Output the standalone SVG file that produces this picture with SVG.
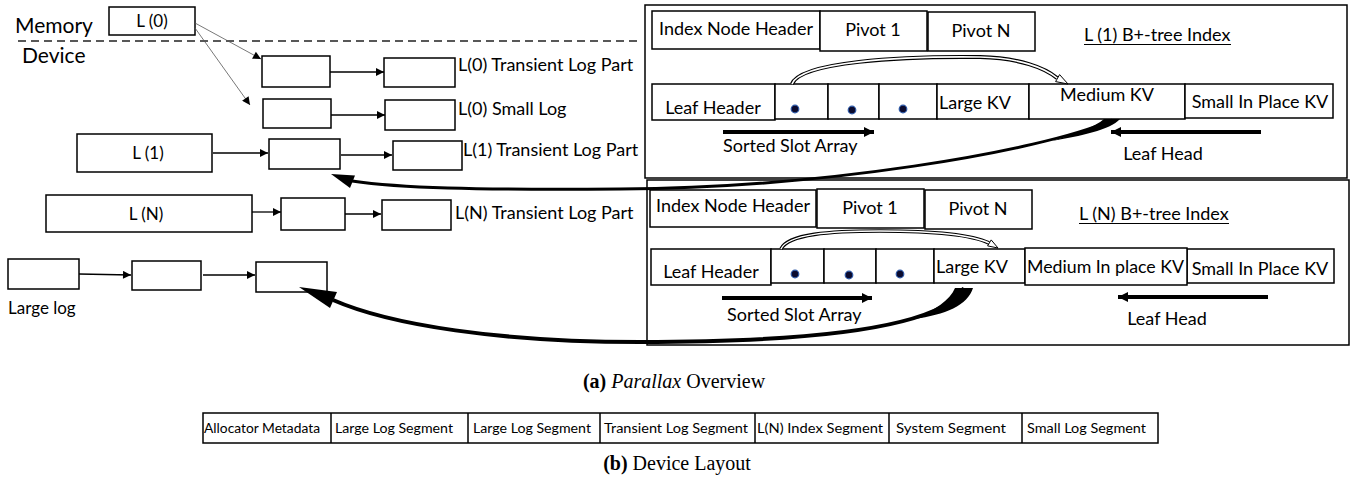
<svg xmlns="http://www.w3.org/2000/svg" width="1351" height="482" viewBox="0 0 1351 482">
<defs>
<style>
.b{fill:#fff;stroke:#000;stroke-width:1.5}
.fr{fill:none;stroke:#000;stroke-width:1.5}
.t{font-family:Lato,"Open Sans","Liberation Sans",sans-serif;fill:#000}
.m{text-anchor:middle}
.f21{font-size:21px}.f18{font-size:18px}.f17{font-size:17px}.f13{font-size:13.5px}
.sm{stroke:#000;stroke-width:1.3;fill:none}
.th{stroke:#000;stroke-width:4;fill:none}
.dot{fill:#0b0b2e;stroke:#2e5aa8;stroke-width:1.2}
.cap{font-family:"Liberation Serif",serif;font-size:20px;fill:#000}
.sep{stroke:#000;stroke-width:1.5}
</style>
<marker id="ah" viewBox="0 0 10 10" refX="10" refY="5" markerWidth="9" markerHeight="8" markerUnits="userSpaceOnUse" orient="auto"><path d="M0,0 L10,5 L0,10 z" fill="#000"/></marker>
<marker id="ahT" viewBox="0 0 10 10" refX="10" refY="5" markerWidth="12" markerHeight="10" markerUnits="userSpaceOnUse" orient="auto"><path d="M0,0 L10,5 L0,10 z" fill="#000"/></marker>
</defs>
<rect width="1351" height="482" fill="#fff"/>

<g id="memory-device">
<text class="t f21" x="15" y="33">Memory</text>
<line x1="18" y1="41" x2="638" y2="41" stroke="#222" stroke-width="1.5" stroke-dasharray="8 5"/>
<text class="t f21" x="22" y="63">Device</text>
</g>

<g id="l0"><rect class="b" x="109" y="7" width="86" height="28"/><text class="t f17 m" x="152" y="27">L (0)</text></g>
<g id="l0-transient">
<rect class="b" x="262" y="56" width="68" height="31"/>
<rect class="b" x="384" y="58" width="71" height="29"/>
<text class="t f18" x="458" y="71">L(0) Transient Log Part</text>
</g>
<g id="l0-small">
<rect class="b" x="263" y="99" width="68" height="29"/>
<rect class="b" x="385" y="100" width="70" height="30"/>
<text class="t f18" x="458" y="115">L(0) Small Log</text>
</g>
<g id="l1"><rect class="b" x="77" y="134" width="135" height="38"/><text class="t f17 m" x="148" y="159">L (1)</text></g>
<g id="l1-transient">
<rect class="b" x="269" y="139" width="71" height="30"/>
<rect class="b" x="393" y="141" width="69" height="29"/>
<text class="t f18" x="463" y="156">L(1) Transient Log Part</text>
</g>
<g id="ln"><rect class="b" x="46" y="195" width="206" height="37"/><text class="t f17 m" x="146" y="220">L (N)</text></g>
<g id="ln-transient">
<rect class="b" x="281" y="198" width="64" height="32"/>
<rect class="b" x="382" y="200" width="69" height="30"/>
<text class="t f18" x="455" y="219">L(N) Transient Log Part</text>
</g>
<g id="large-log">
<rect class="b" x="8" y="259" width="71" height="30"/>
<rect class="b" x="132" y="261" width="69" height="29"/>
<rect class="b" x="256" y="262" width="71" height="30"/>
<text class="t f17" x="8" y="314">Large log</text>
</g>

<g id="l1-index">
<rect class="fr" x="645" y="5" width="702" height="173"/>
<rect class="b" x="652" y="11" width="168" height="38"/><text class="t f18 m" x="736" y="35">Index Node Header</text>
<rect class="b" x="820" y="11" width="107" height="40"/><text class="t f18 m" x="873" y="36">Pivot 1</text>
<rect class="b" x="928" y="12" width="107" height="39"/><text class="t f18 m" x="981" y="37">Pivot N</text>
<text class="t f18" x="1084" y="41">L (1) B+-tree Index</text>
<line x1="1084" y1="44.5" x2="1231" y2="44.5" stroke="#000" stroke-width="1.2"/>
<rect class="b" x="652" y="84" width="123" height="36"/><text class="t f18 m" x="713" y="114">Leaf Header</text>
<rect class="b" x="775" y="84" width="53" height="35"/>
<rect class="b" x="828" y="84" width="51" height="35"/>
<rect class="b" x="879" y="84" width="58" height="35"/>
<circle class="dot" cx="795" cy="109" r="3.8"/><circle class="dot" cx="852" cy="110" r="3.8"/><circle class="dot" cx="903" cy="109" r="3.8"/>
<rect class="b" x="937" y="84" width="92" height="35"/><text class="t f18" x="939" y="109">Large KV</text>
<rect class="b" x="1029" y="84" width="156" height="35"/><text class="t f18 m" x="1107" y="101">Medium KV</text>
<rect class="b" x="1185" y="84" width="148" height="34"/><text class="t f18 m" x="1260" y="108">Small In Place KV</text>
<text class="t f18" x="723" y="152">Sorted Slot Array</text>
<text class="t f18 m" x="1163" y="160">Leaf Head</text>
</g>

<g id="ln-index">
<rect class="fr" x="647" y="180" width="702" height="165"/>
<rect class="b" x="650" y="190" width="166" height="37"/><text class="t f18 m" x="733" y="212">Index Node Header</text>
<rect class="b" x="817" y="189" width="107" height="39"/><text class="t f18 m" x="870" y="214">Pivot 1</text>
<rect class="b" x="925" y="190" width="107" height="39"/><text class="t f18 m" x="978" y="215">Pivot N</text>
<text class="t f18" x="1079" y="220">L (N) B+-tree Index</text>
<line x1="1079" y1="223.5" x2="1229" y2="223.5" stroke="#000" stroke-width="1.2"/>
<rect class="b" x="651" y="249" width="120" height="36"/><text class="t f18 m" x="711" y="278">Leaf Header</text>
<rect class="b" x="771" y="249" width="53" height="34"/>
<rect class="b" x="824" y="249" width="52" height="34"/>
<rect class="b" x="876" y="249" width="58" height="34"/>
<circle class="dot" cx="795" cy="274" r="3.8"/><circle class="dot" cx="849" cy="275" r="3.8"/><circle class="dot" cx="900" cy="274" r="3.8"/>
<rect class="b" x="934" y="249" width="91" height="34"/><text class="t f18" x="936" y="273">Large KV</text>
<rect class="b" x="1187" y="249" width="147" height="34"/><text class="t f18 m" x="1260" y="275">Small In Place KV</text>
<rect class="b" x="1025" y="248" width="162" height="37"/><text class="t f18" x="1027" y="273" textLength="157" lengthAdjust="spacingAndGlyphs">Medium In place KV</text>
<text class="t f18" x="727" y="321">Sorted Slot Array</text>
<text class="t f18 m" x="1167" y="325">Leaf Head</text>
</g>

<g id="connectors">
<line x1="195" y1="23" x2="261" y2="59" stroke="#555" stroke-width="0.8" marker-end="url(#ah)"/>
<line x1="195" y1="28" x2="250" y2="105" stroke="#555" stroke-width="0.8" marker-end="url(#ah)"/>
<line class="sm" x1="330" y1="72" x2="384" y2="72" marker-end="url(#ah)"/>
<line class="sm" x1="331" y1="115" x2="385" y2="115" marker-end="url(#ah)"/>
<line class="sm" x1="213" y1="153" x2="268" y2="153" marker-end="url(#ah)"/>
<line class="sm" x1="341" y1="155" x2="392" y2="155" marker-end="url(#ah)"/>
<line class="sm" x1="252" y1="212" x2="281" y2="212" marker-end="url(#ah)"/>
<line class="sm" x1="345" y1="214" x2="381" y2="214" marker-end="url(#ah)"/>
<line class="sm" x1="79" y1="274" x2="131" y2="275" marker-end="url(#ah)"/>
<line class="sm" x1="203" y1="275" x2="255" y2="275" marker-end="url(#ah)"/>

<line class="th" x1="723" y1="132" x2="874" y2="132" marker-end="url(#ahT)"/>
<line class="th" x1="1261" y1="132" x2="1111" y2="132" marker-end="url(#ahT)"/>
<line class="th" x1="722" y1="298" x2="872" y2="298" marker-end="url(#ahT)"/>
<line class="th" x1="1268" y1="297" x2="1118" y2="297" marker-end="url(#ahT)"/>

<path d="M792,84 C800,62 900,56 980,57 C1020,58 1045,68 1057,78" fill="none" stroke="#000" stroke-width="4"/>
<path d="M792,84 C800,62 900,56 980,57 C1020,58 1045,68 1057,78" fill="none" stroke="#fff" stroke-width="1.6"/>
<path d="M1068,84 L1055.6,81.6 L1059.6,74.6 Z" fill="#fff" stroke="#000" stroke-width="1"/>

<path d="M781,249 C788,234 830,231 880,231 C930,231 970,234 989,243" fill="none" stroke="#000" stroke-width="3.6"/>
<path d="M781,249 C788,234 830,231 880,231 C930,231 970,234 989,243" fill="none" stroke="#fff" stroke-width="1.4"/>
<path d="M998,248 L987.6,245.9 L991.2,239.9 Z" fill="#fff" stroke="#000" stroke-width="1"/>

<path d="M1112,120 C1040,152 820,188 620,189 C470,190 400,188 352,181" fill="none" stroke="#000" stroke-width="3"/>
<path d="M1104,119 L1120,119 C1110,130 1080,136 1052,141 C1075,134 1095,127 1104,119 Z" fill="#000"/>
<path d="M331,174 L355,175.5 L350,188 Z" fill="#000"/>

<path d="M964,288 C940,330 800,342 640,342 C500,342 390,325 333,300" fill="none" stroke="#000" stroke-width="4"/>
<path d="M955,288 L973,288 C968,305 945,315 914,319 C935,310 950,300 955,288 Z" fill="#000"/>
<path d="M299,287 L337,292 L330,308 Z" fill="#000"/>
</g>

<g id="caption-a"><text class="cap" x="674" y="388" text-anchor="middle"><tspan font-weight="bold">(a)</tspan> <tspan font-style="italic">Parallax</tspan> Overview</text></g>

<g id="device-layout">
<rect class="b" x="203" y="413" width="955" height="30"/>
<line class="sep" x1="331" y1="413" x2="331" y2="443"/>
<line class="sep" x1="468" y1="413" x2="468" y2="443"/>
<line class="sep" x1="600" y1="413" x2="600" y2="443"/>
<line class="sep" x1="755" y1="413" x2="755" y2="443"/>
<line class="sep" x1="889" y1="413" x2="889" y2="443"/>
<line class="sep" x1="1022" y1="413" x2="1022" y2="443"/>
<text class="t f13" x="204" y="433" textLength="116" lengthAdjust="spacingAndGlyphs">Allocator Metadata</text>
<text class="t f13" x="335" y="433" textLength="118" lengthAdjust="spacingAndGlyphs">Large Log Segment</text>
<text class="t f13" x="473" y="433" textLength="118" lengthAdjust="spacingAndGlyphs">Large Log Segment</text>
<text class="t f13" x="604" y="433" textLength="144" lengthAdjust="spacingAndGlyphs">Transient Log Segment</text>
<text class="t f13" x="757" y="433" textLength="126" lengthAdjust="spacingAndGlyphs">L(N) Index Segment</text>
<text class="t f13" x="896" y="433" textLength="110" lengthAdjust="spacingAndGlyphs">System Segment</text>
<text class="t f13" x="1027" y="433" textLength="119" lengthAdjust="spacingAndGlyphs">Small Log Segment</text>
</g>
<g id="caption-b"><text class="cap" x="677" y="470" text-anchor="middle"><tspan font-weight="bold">(b)</tspan> Device Layout</text></g>
</svg>
